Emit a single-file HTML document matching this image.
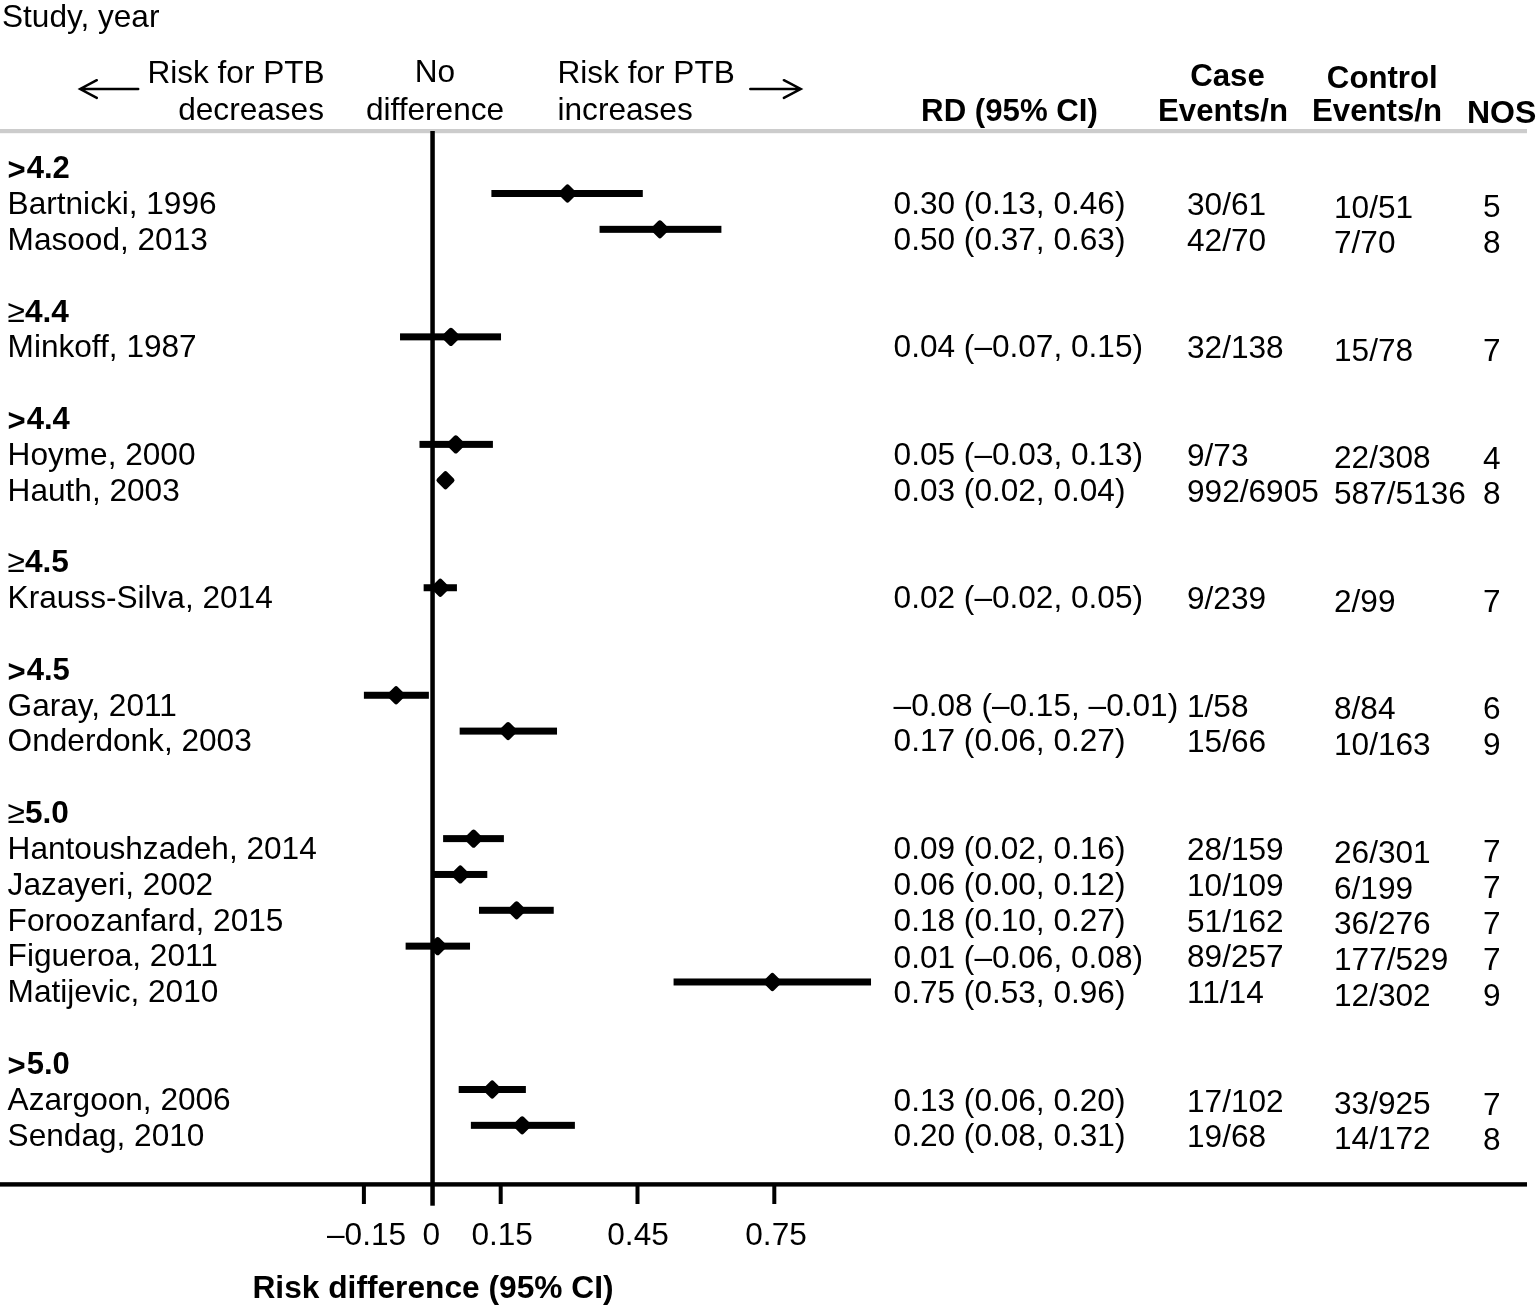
<!DOCTYPE html>
<html><head><meta charset="utf-8"><title>Forest plot</title>
<style>
html,body{margin:0;padding:0;background:#fff;}
body{width:1536px;height:1305px;overflow:hidden;}
svg{display:block;}
text{font-family:"Liberation Sans",Arial,Helvetica,sans-serif;fill:#000;}
.r{font-size:31.6px;}
.b{font-size:31.2px;font-weight:bold;}
.b31{font-size:31px;font-weight:bold;}
.bt{font-weight:bold;}
.dm{fill:#000;stroke:#000;stroke-width:3;stroke-linejoin:round;}
.ar{stroke:#000;stroke-width:2.5;fill:none;stroke-linecap:round;stroke-linejoin:miter;}
</style></head>
<body>
<svg width="1536" height="1305" viewBox="0 0 1536 1305">
<rect width="1536" height="1305" fill="#fff"/>
<text x="2" y="26.6" class="r">Study, year</text>
<text x="324.7" y="82.6" class="r" text-anchor="end">Risk for PTB</text>
<text x="324" y="120" class="r" text-anchor="end">decreases</text>
<text x="435" y="81.8" class="r" text-anchor="middle">No</text>
<text x="435" y="119.8" class="r" text-anchor="middle">difference</text>
<text x="557.5" y="83" class="r">Risk for PTB</text>
<text x="557.5" y="119.5" class="r">increases</text>
<path d="M81 89 H138.2 M96.8 80.2 L80.2 89 L96.8 97.9" class="ar"/>
<path d="M750.3 89 H800 M783.9 80.2 L800.7 89 L783.9 97.9" class="ar"/>
<text x="1009.5" y="121.3" class="b" text-anchor="middle">RD (95% CI)</text>
<text x="1227.5" y="85.6" class="b" text-anchor="middle">Case</text>
<text x="1223" y="120.9" class="b" text-anchor="middle">Events/n</text>
<text x="1382.3" y="87.8" class="b" text-anchor="middle">Control</text>
<text x="1377" y="120.7" class="b" text-anchor="middle">Events/n</text>
<text x="1467" y="123.1" class="b" style="font-size:32px">NOS</text>
<rect x="0" y="129" width="1527" height="4.2" fill="#cccccc"/>
<rect x="430.3" y="131" width="4.5" height="1074.7" fill="#000"/>
<rect x="0" y="1182.2" width="1527" height="4.4" fill="#000"/>
<rect x="361.90" y="1185" width="4" height="19" fill="#000"/>
<rect x="498.70" y="1185" width="4" height="19" fill="#000"/>
<rect x="635.50" y="1185" width="4" height="19" fill="#000"/>
<rect x="772.30" y="1185" width="4" height="19" fill="#000"/>
<text x="366.55" y="1245.2" class="r" text-anchor="middle">–0.15</text>
<text x="431.35" y="1245.2" class="r" text-anchor="middle">0</text>
<text x="502.15" y="1245.2" class="r" text-anchor="middle">0.15</text>
<text x="638.05" y="1245.2" class="r" text-anchor="middle">0.45</text>
<text x="776.05" y="1245.2" class="r" text-anchor="middle">0.75</text>
<text x="433" y="1298.2" class="b31" text-anchor="middle" style="font-size:31.7px">Risk difference (95% CI)</text>
<text x="7.6" y="177.96" class="b31"><tspan dy="2.3">&gt;</tspan><tspan dy="-2.3" dx="1">4.2</tspan></text>
<text x="7.6" y="213.80" class="r">Bartnicki, 1996</text>
<text x="893.6" y="213.80" class="r">0.30 (0.13, 0.46)</text>
<text x="1187.0" y="214.80" class="r">30/61</text>
<text x="1334.0" y="217.60" class="r">10/51</text>
<text x="1483.0" y="217.30" class="r">5</text>
<rect x="491.40" y="190.00" width="151.39" height="7" fill="#000"/>
<rect x="560.40" y="186.40" width="14.2" height="14.2" rx="2.5" fill="#000" transform="rotate(45 567.50 193.50)"/>
<text x="7.6" y="249.64" class="r">Masood, 2013</text>
<text x="893.6" y="249.64" class="r">0.50 (0.37, 0.63)</text>
<text x="1187.0" y="250.64" class="r">42/70</text>
<text x="1334.0" y="253.44" class="r">7/70</text>
<text x="1483.0" y="253.14" class="r">8</text>
<rect x="599.56" y="225.84" width="121.84" height="7" fill="#000"/>
<rect x="652.79" y="222.24" width="14.2" height="14.2" rx="2.5" fill="#000" transform="rotate(45 659.89 229.34)"/>
<text x="7.6" y="322.32" class="r">≥<tspan class="bt">4.4</tspan></text>
<text x="7.6" y="357.16" class="r">Minkoff, 1987</text>
<text x="893.6" y="357.16" class="r">0.04 (–0.07, 0.15)</text>
<text x="1187.0" y="358.16" class="r">32/138</text>
<text x="1334.0" y="360.96" class="r">15/78</text>
<text x="1483.0" y="360.66" class="r">7</text>
<rect x="400.02" y="333.36" width="101.00" height="7" fill="#000"/>
<rect x="443.80" y="329.76" width="14.2" height="14.2" rx="2.5" fill="#000" transform="rotate(45 450.90 336.86)"/>
<text x="7.6" y="428.84" class="b31"><tspan dy="2.3">&gt;</tspan><tspan dy="-2.3" dx="1">4.4</tspan></text>
<text x="7.6" y="464.68" class="r">Hoyme, 2000</text>
<text x="893.6" y="464.68" class="r">0.05 (–0.03, 0.13)</text>
<text x="1187.0" y="465.68" class="r">9/73</text>
<text x="1334.0" y="468.48" class="r">22/308</text>
<text x="1483.0" y="468.68" class="r">4</text>
<rect x="419.49" y="440.88" width="73.42" height="7" fill="#000"/>
<rect x="448.68" y="437.28" width="14.2" height="14.2" rx="2.5" fill="#000" transform="rotate(45 455.78 444.38)"/>
<text x="7.6" y="500.52" class="r">Hauth, 2003</text>
<text x="893.6" y="500.52" class="r">0.03 (0.02, 0.04)</text>
<text x="1187.0" y="501.52" class="r">992/6905</text>
<text x="1334.0" y="504.32" class="r">587/5136</text>
<text x="1483.0" y="504.02" class="r">8</text>
<rect x="441.42" y="476.72" width="9.12" height="7" fill="#000"/>
<rect x="438.38" y="473.12" width="14.2" height="14.2" rx="2.5" fill="#000" transform="rotate(45 445.48 480.22)"/>
<text x="7.6" y="572.20" class="r">≥<tspan class="bt">4.5</tspan></text>
<text x="7.6" y="608.04" class="r">Krauss-Silva, 2014</text>
<text x="893.6" y="608.04" class="r">0.02 (–0.02, 0.05)</text>
<text x="1187.0" y="609.04" class="r">9/239</text>
<text x="1334.0" y="611.84" class="r">2/99</text>
<text x="1483.0" y="611.54" class="r">7</text>
<rect x="423.64" y="584.24" width="33.29" height="7" fill="#000"/>
<rect x="433.18" y="580.64" width="14.2" height="14.2" rx="2.5" fill="#000" transform="rotate(45 440.28 587.74)"/>
<text x="7.6" y="679.72" class="b31"><tspan dy="2.3">&gt;</tspan><tspan dy="-2.3" dx="1">4.5</tspan></text>
<text x="7.6" y="715.56" class="r">Garay, 2011</text>
<text x="893.6" y="715.56" class="r">–0.08 (–0.15, –0.01)</text>
<text x="1187.0" y="716.56" class="r">1/58</text>
<text x="1334.0" y="719.36" class="r">8/84</text>
<text x="1483.0" y="719.06" class="r">6</text>
<rect x="363.90" y="691.76" width="64.98" height="7" fill="#000"/>
<rect x="388.99" y="688.16" width="14.2" height="14.2" rx="2.5" fill="#000" transform="rotate(45 396.09 695.26)"/>
<text x="7.6" y="751.40" class="r">Onderdonk, 2003</text>
<text x="893.6" y="751.40" class="r">0.17 (0.06, 0.27)</text>
<text x="1187.0" y="752.40" class="r">15/66</text>
<text x="1334.0" y="755.20" class="r">10/163</text>
<text x="1483.0" y="754.90" class="r">9</text>
<rect x="459.66" y="727.60" width="97.36" height="7" fill="#000"/>
<rect x="500.99" y="724.00" width="14.2" height="14.2" rx="2.5" fill="#000" transform="rotate(45 508.09 731.10)"/>
<text x="7.6" y="822.88" class="r">≥<tspan class="bt">5.0</tspan></text>
<text x="7.6" y="858.92" class="r">Hantoushzadeh, 2014</text>
<text x="893.6" y="858.92" class="r">0.09 (0.02, 0.16)</text>
<text x="1187.0" y="859.92" class="r">28/159</text>
<text x="1334.0" y="862.72" class="r">26/301</text>
<text x="1483.0" y="862.42" class="r">7</text>
<rect x="443.11" y="835.12" width="60.78" height="7" fill="#000"/>
<rect x="466.51" y="831.52" width="14.2" height="14.2" rx="2.5" fill="#000" transform="rotate(45 473.61 838.62)"/>
<text x="7.6" y="894.76" class="r">Jazayeri, 2002</text>
<text x="893.6" y="894.76" class="r">0.06 (0.00, 0.12)</text>
<text x="1187.0" y="895.76" class="r">10/109</text>
<text x="1334.0" y="898.56" class="r">6/199</text>
<text x="1483.0" y="898.26" class="r">7</text>
<rect x="432.30" y="870.96" width="54.99" height="7" fill="#000"/>
<rect x="453.20" y="867.36" width="14.2" height="14.2" rx="2.5" fill="#000" transform="rotate(45 460.30 874.46)"/>
<text x="7.6" y="930.60" class="r">Foroozanfard, 2015</text>
<text x="893.6" y="931.30" class="r">0.18 (0.10, 0.27)</text>
<text x="1187.0" y="931.60" class="r">51/162</text>
<text x="1334.0" y="934.40" class="r">36/276</text>
<text x="1483.0" y="934.10" class="r">7</text>
<rect x="478.99" y="906.80" width="74.74" height="7" fill="#000"/>
<rect x="509.51" y="903.20" width="14.2" height="14.2" rx="2.5" fill="#000" transform="rotate(45 516.61 910.30)"/>
<text x="7.6" y="966.44" class="r">Figueroa, 2011</text>
<text x="893.6" y="967.74" class="r">0.01 (–0.06, 0.08)</text>
<text x="1187.0" y="967.44" class="r">89/257</text>
<text x="1334.0" y="970.24" class="r">177/529</text>
<text x="1483.0" y="969.94" class="r">7</text>
<rect x="405.62" y="942.64" width="64.39" height="7" fill="#000"/>
<rect x="430.58" y="939.04" width="14.2" height="14.2" rx="2.5" fill="#000" transform="rotate(45 437.68 946.14)"/>
<text x="7.6" y="1002.28" class="r">Matijevic, 2010</text>
<text x="893.6" y="1003.28" class="r">0.75 (0.53, 0.96)</text>
<text x="1187.0" y="1003.28" class="r">11/14</text>
<text x="1334.0" y="1006.08" class="r">12/302</text>
<text x="1483.0" y="1005.78" class="r">9</text>
<rect x="673.57" y="978.48" width="197.45" height="7" fill="#000"/>
<rect x="765.28" y="974.88" width="14.2" height="14.2" rx="2.5" fill="#000" transform="rotate(45 772.38 981.98)"/>
<text x="7.6" y="1073.96" class="b31"><tspan dy="2.3">&gt;</tspan><tspan dy="-2.3" dx="1">5.0</tspan></text>
<text x="7.6" y="1109.80" class="r">Azargoon, 2006</text>
<text x="893.6" y="1110.90" class="r">0.13 (0.06, 0.20)</text>
<text x="1187.0" y="1111.60" class="r">17/102</text>
<text x="1334.0" y="1113.60" class="r">33/925</text>
<text x="1483.0" y="1114.60" class="r">7</text>
<rect x="458.70" y="1086.00" width="67.17" height="7" fill="#000"/>
<rect x="485.12" y="1082.40" width="14.2" height="14.2" rx="2.5" fill="#000" transform="rotate(45 492.22 1089.50)"/>
<text x="7.6" y="1145.64" class="r">Sendag, 2010</text>
<text x="893.6" y="1145.64" class="r">0.20 (0.08, 0.31)</text>
<text x="1187.0" y="1147.14" class="r">19/68</text>
<text x="1334.0" y="1149.44" class="r">14/172</text>
<text x="1483.0" y="1150.14" class="r">8</text>
<rect x="470.88" y="1121.84" width="104.01" height="7" fill="#000"/>
<rect x="515.08" y="1118.24" width="14.2" height="14.2" rx="2.5" fill="#000" transform="rotate(45 522.18 1125.34)"/>
</svg>
</body></html>
